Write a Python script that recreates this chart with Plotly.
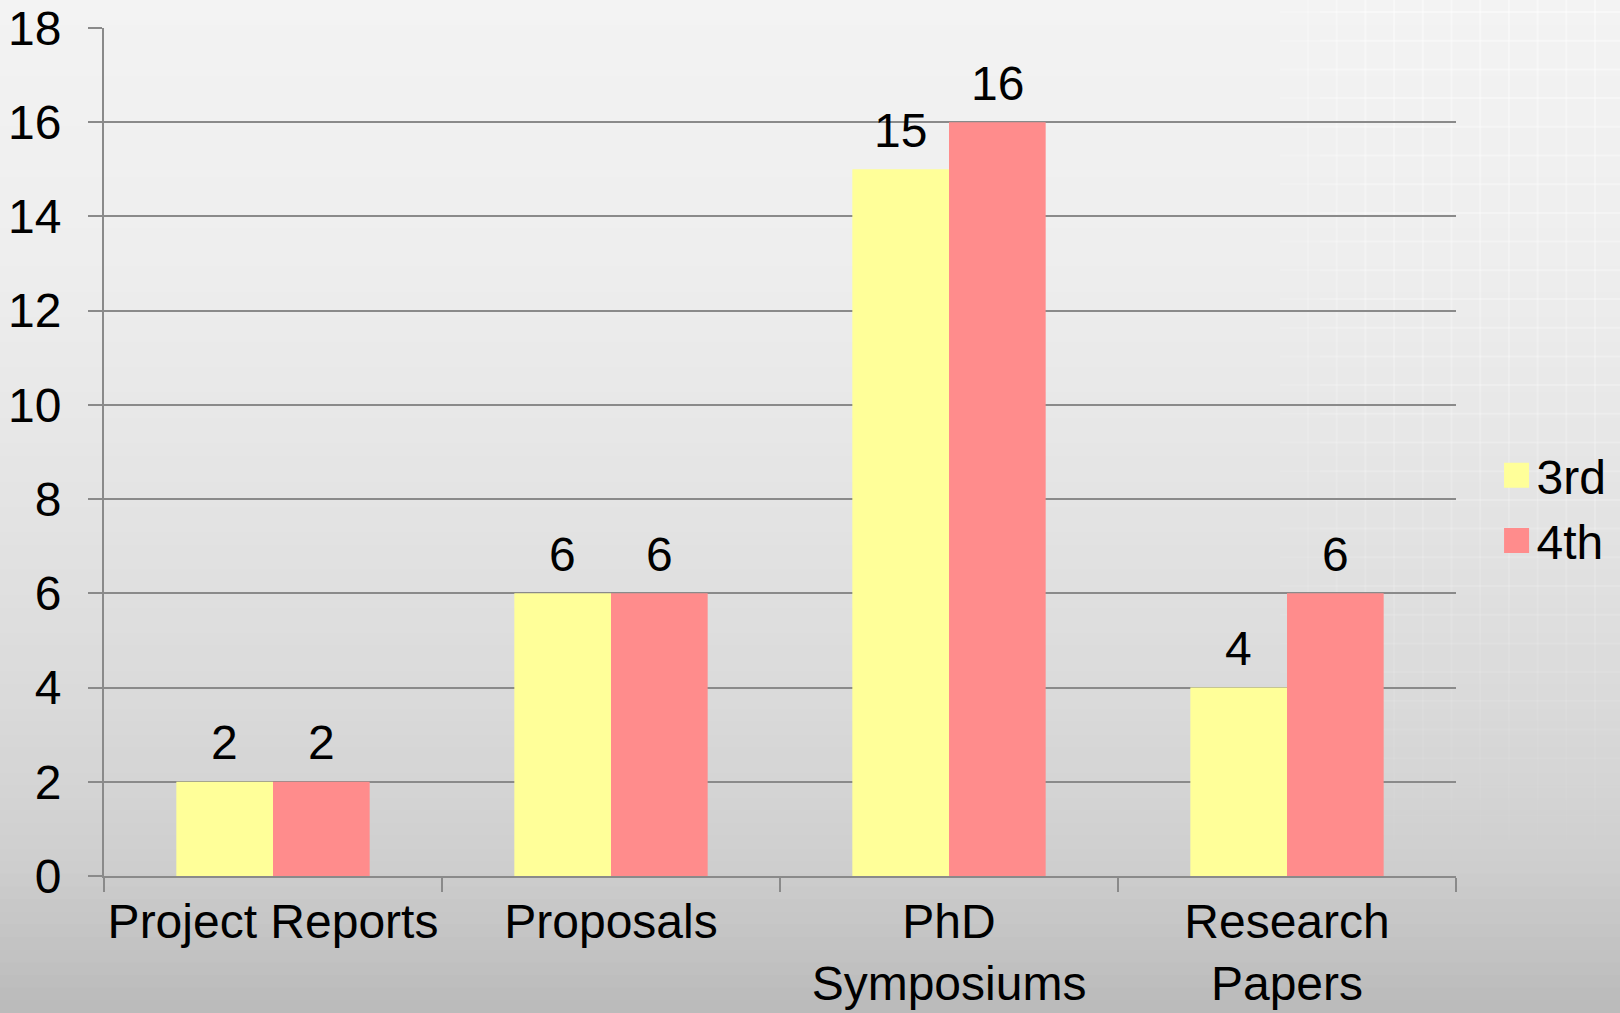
import plotly.graph_objects as go

# Publication counts by category and year of study
categories = ["Project Reports", "Proposals", "PhD<br>Symposiums", "Research<br>Papers"]
series_names = ["3rd", "4th"]
third_year = [2, 6, 15, 4]
fourth_year = [2, 6, 16, 6]
y_ticks = [0, 2, 4, 6, 8, 10, 12, 14, 16, 18]

colors = {"3rd": "#FFFF99", "4th": "#FF8C8C"}
FONT = "Liberation Sans, Arial, sans-serif"
FS = 48
W, H = 1620, 1013
ML, MR, MT, MB = 104, 164, 28, 137
BARGAP = 0.428

fig = go.Figure()
for name, vals in zip(series_names, [third_year, fourth_year]):
    fig.add_trace(go.Bar(
        x=categories, y=vals, name=name,
        marker=dict(color=colors[name], line=dict(width=0)),
    ))

pw = W - ML - MR
ph = H - MT - MB

# Value labels above each bar, shifted to the centre of its group slot
bar_px = pw / len(categories) * (1 - BARGAP) / len(series_names)
annotations = []
for k, vals in enumerate([third_year, fourth_year]):
    shift = (k - (len(series_names) - 1) / 2) * bar_px
    for cat, v in zip(categories, vals):
        annotations.append(dict(
            x=cat, y=v, xref="x", yref="y", text=str(v), showarrow=False,
            xanchor="center", yanchor="middle", xshift=shift, yshift=39,
            font=dict(family=FONT, size=FS, color="black"),
        ))

# Page background: soft vertical grey gradient
def px_x(v):
    return (v - ML) / pw
def px_y(v):
    return (H - MB - v) / ph

shapes = []
stops = [(0, 243), (250, 238), (500, 228), (700, 218), (850, 208), (1013, 186)]
def shade(y):
    for (y0, c0), (y1, c1) in zip(stops[:-1], stops[1:]):
        if y0 <= y <= y1:
            return c0 + (c1 - c0) * (y - y0) / (y1 - y0)
    return stops[-1][1]

n = 80
for i in range(n):
    y0 = H * i / n
    y1 = H * (i + 1) / n + 1
    c = int(round(shade((y0 + y1) / 2)))
    shapes.append(dict(type="rect", xref="paper", yref="paper", layer="below",
                       x0=px_x(-5), x1=px_x(W + 5), y0=px_y(y1), y1=px_y(y0),
                       fillcolor=f"rgb({c},{c},{c})", line=dict(width=0)))

# Faint white grid texture on the right side, fading downward and leftward
step = 28.7
def fade_y(y):
    return max(0.0, 0.42 * (1 - y / 880))
def fade_x(x):
    return max(0.0, min(1.0, (x - 1240) / 120))

seg = 40
gx = 1308.0
while gx < W:
    y = 0.0
    while y < 880:
        a = fade_y(y + seg / 2) * fade_x(gx)
        if a > 0.01:
            shapes.append(dict(type="line", xref="paper", yref="paper", layer="below",
                               x0=px_x(gx), x1=px_x(gx), y0=px_y(y), y1=px_y(y + seg),
                               line=dict(color=f"rgba(255,255,255,{a:.3f})", width=2)))
        y += seg
    gx += step
gy = 12.0
while gy < 880:
    x = 1240.0
    while x < W:
        a = fade_y(gy) * fade_x(x + seg / 2)
        if a > 0.01:
            shapes.append(dict(type="line", xref="paper", yref="paper", layer="below",
                               x0=px_x(x), x1=px_x(x + seg), y0=px_y(gy), y1=px_y(gy),
                               line=dict(color=f"rgba(255,255,255,{a:.3f})", width=2)))
        x += seg
    gy += step

fig.update_layout(
    width=W, height=H,
    margin=dict(l=ML, r=MR, t=MT, b=MB, autoexpand=False),
    paper_bgcolor="#dcdcdc", plot_bgcolor="rgba(0,0,0,0)",
    font=dict(family=FONT, size=FS, color="black"),
    barmode="group", bargap=BARGAP, bargroupgap=0,
    shapes=shapes, annotations=annotations,
    showlegend=True,
    legend=dict(x=1.03, xanchor="left", y=0.434, yanchor="middle",
                bgcolor="rgba(0,0,0,0)", font=dict(family=FONT, size=FS, color="black"),
                itemwidth=30),
    xaxis=dict(
        showline=True, linecolor="#8a8a8a", linewidth=2,
        ticks="outside", ticklen=14, tickwidth=2, tickcolor="#8a8a8a",
        tickson="boundaries", showgrid=False, automargin=False,
        tickangle=0, ticklabelstandoff=2,
        tickfont=dict(family=FONT, size=FS, color="black"),
    ),
    yaxis=dict(
        range=[0, 18], tickvals=y_ticks, showline=True, linecolor="#8a8a8a", linewidth=2,
        ticks="outside", ticklen=14, tickwidth=2, tickcolor="#8a8a8a",
        showgrid=True, gridcolor="#8a8a8a", gridwidth=2, zeroline=False,
        automargin=False, ticklabelstandoff=17,
        tickfont=dict(family=FONT, size=FS, color="black"),
    ),
)

# Larger square swatches in the legend
legend_js = """
var gd = document.getElementById('{plot_id}');
function growSwatches() {
  gd.querySelectorAll('.legend .legendpoints path').forEach(function (p) {
    p.setAttribute('d', 'M12.5,12.5H-12.5V-12.5H12.5Z');
  });
}
growSwatches();
gd.on('plotly_afterplot', growSwatches);
"""

fig.write_html("out.html", post_script=legend_js)
